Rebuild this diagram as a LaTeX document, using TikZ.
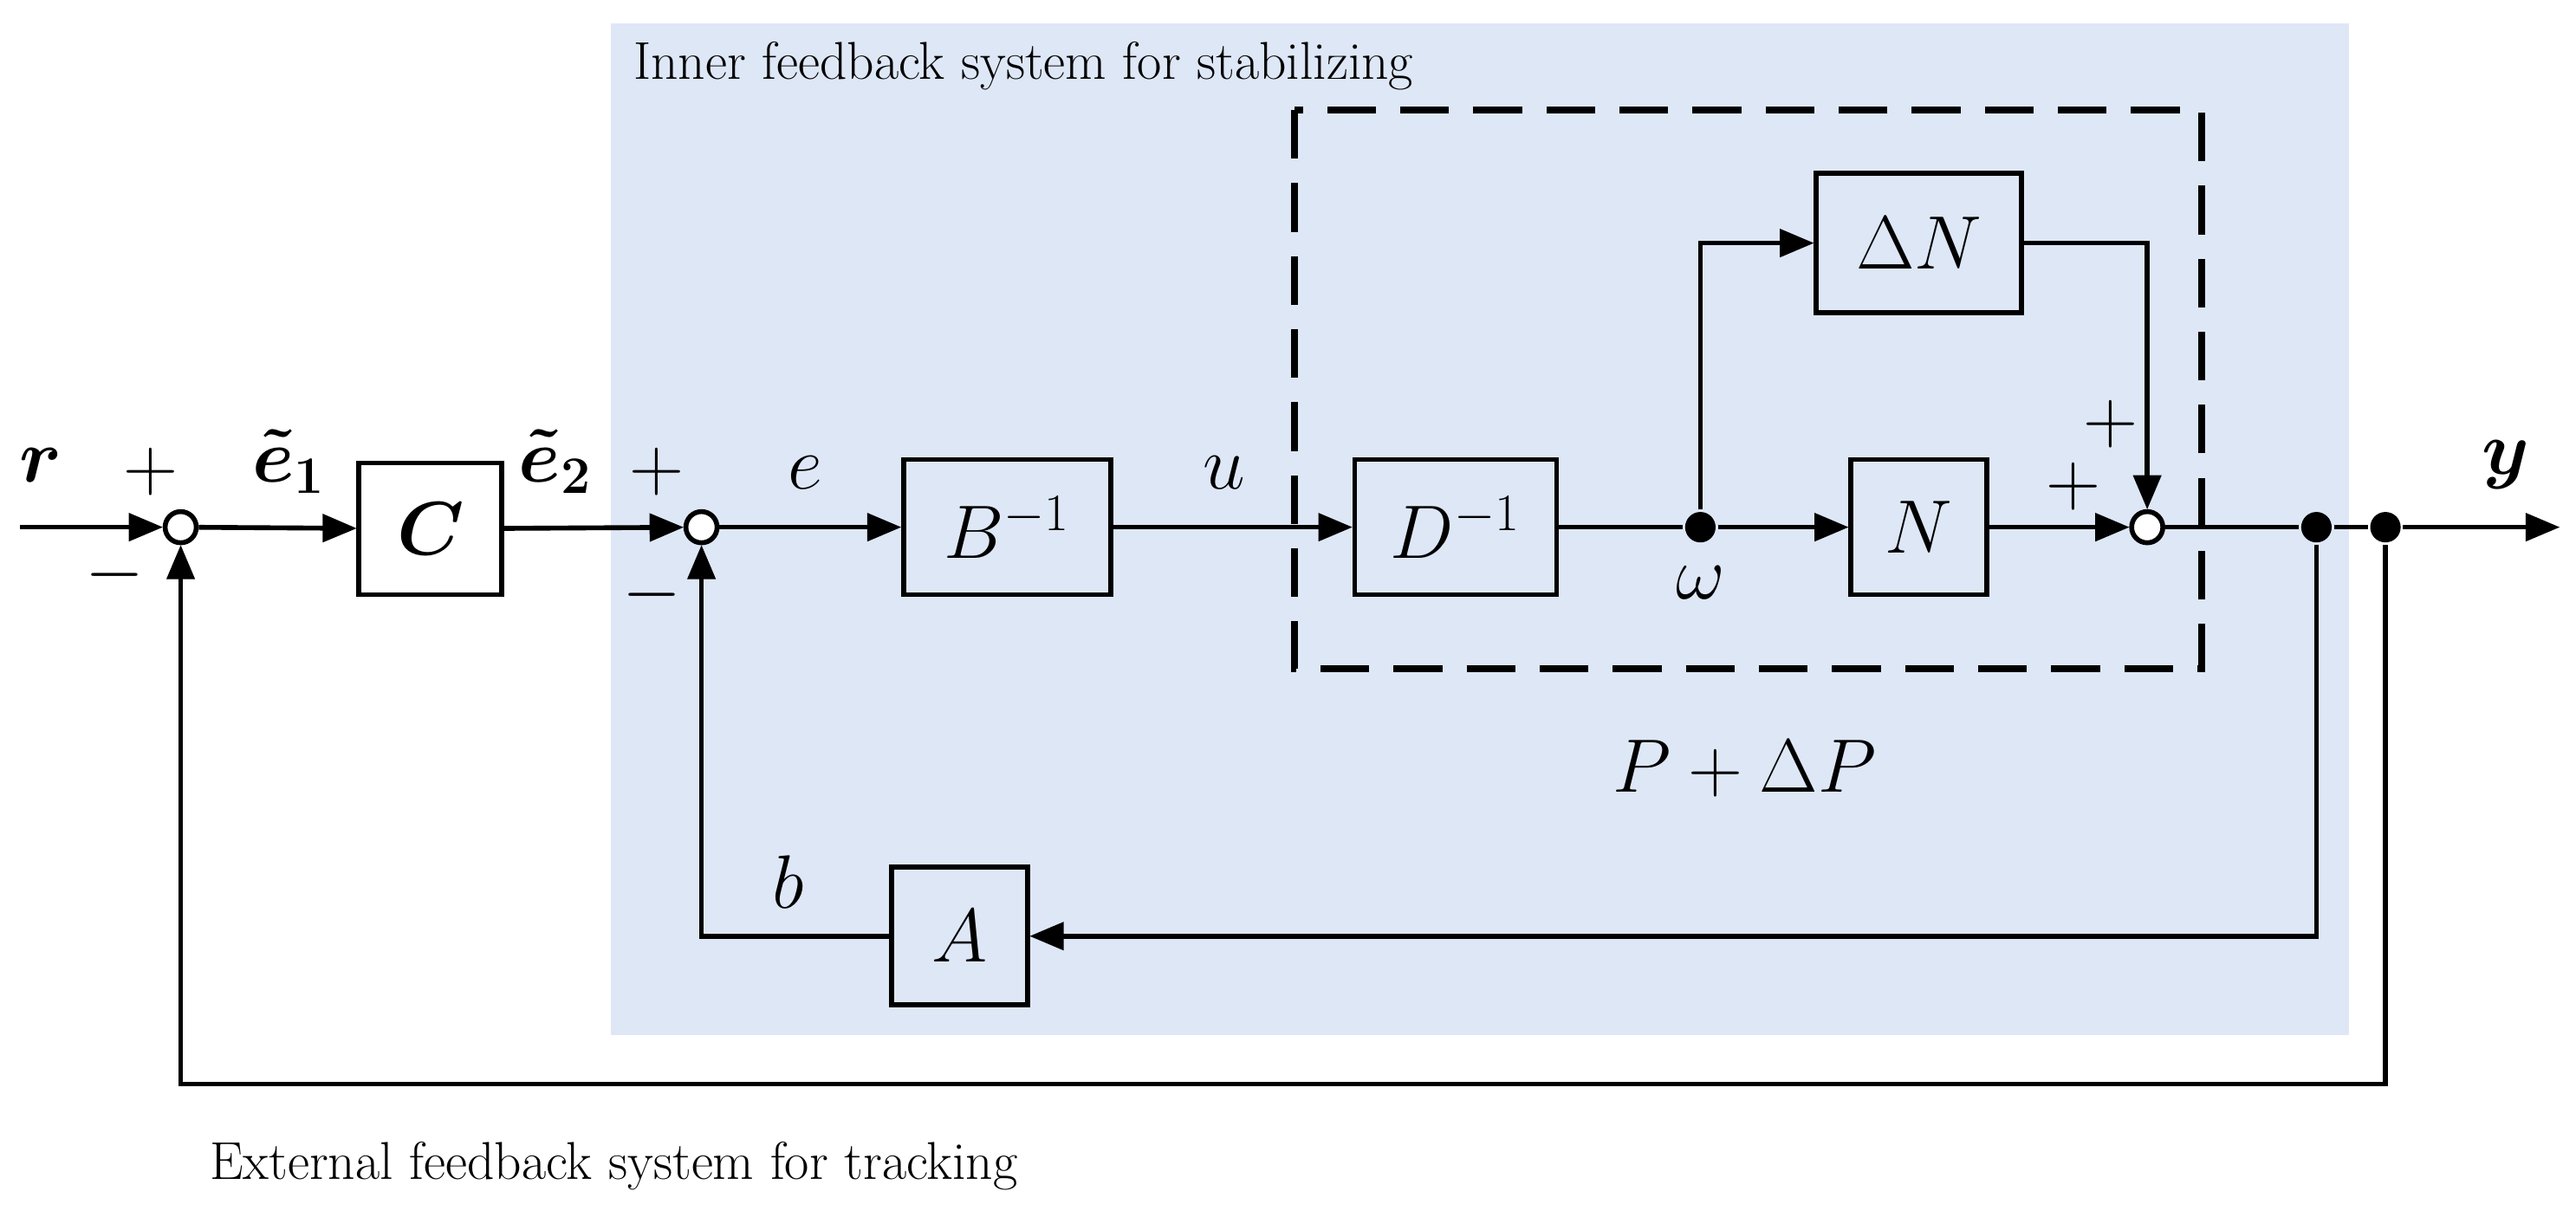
\documentclass[tikz,border=0pt]{standalone}
\usepackage{amsmath,bm}
\usetikzlibrary{arrows}
\definecolor{inner}{RGB}{222,231,246}
\newcommand{\bigtxt}{\fontsize{23}{28}\selectfont}
\newcommand{\signtxt}{\fontsize{29}{34}\selectfont}
\newcommand{\smalltxt}{\fontsize{17.5}{21}\selectfont}
\begin{document}
\begin{tikzpicture}[x=0.01896cm, y=-0.01896cm, line width=1.6pt, >=triangle 45,
  block/.style={draw, rectangle, inner sep=0pt, font=\bigtxt},
  sum/.style={draw, circle, fill=white, inner sep=0pt, minimum size=0.36cm},
  dot/.style={circle, fill, inner sep=0pt, minimum size=10pt},
  lbl/.style={font=\bigtxt},
  sgn/.style={font=\signtxt}]

\useasboundingbox (0,0) rectangle (1568,740.5);

% background
\fill[inner] (372,14) rectangle (1430,630);
\node[anchor=west, font=\smalltxt] (title) at (378,40) {Inner feedback system for stabilizing};
\draw[dashed, line width=2.2pt, dash pattern=on 16pt off 8pt] (788,67) rectangle (1340,407);

% blocks
\node[block, minimum width=1.65cm, minimum height=1.52cm] (C) at (262,322) {$\bm{C}$};
\node[block, minimum width=2.39cm, minimum height=1.56cm] (Binv) at (613,321) {$B^{-1}$};
\node[block, minimum width=2.33cm, minimum height=1.56cm] (Dinv) at (886,321) {$D^{-1}$};
\node[block, minimum width=1.57cm, minimum height=1.56cm] (N) at (1168,321) {$N$};
\node[block, minimum width=2.37cm, minimum height=1.61cm] (dN) at (1168,148) {$\Delta N$};
\node[block, minimum width=1.57cm, minimum height=1.59cm] (A) at (584,570) {$A$};

% junctions
\node[sum] (s1) at (110,321) {};
\node[sum] (s2) at (427,321) {};
\node[sum] (s3) at (1307,321) {};
\node[dot] (w) at (1035,321) {};
\node[dot] (y1) at (1410,321) {};
\node[dot] (y2) at (1452,321) {};
\coordinate (in) at (12,321);
\coordinate (out) at (1558,321);

% labels
\node[lbl] at (25,283) {$\bm{r}$};
\node[sgn] at (92,287) {$+$};
\node[sgn] at (70,350) {$-$};
\node[lbl] at (176,281) {$\bm{\tilde e_1}$};
\node[lbl] at (338,281) {$\bm{\tilde e_2}$};
\node[sgn] at (400,287) {$+$};
\node[sgn] at (397,362) {$-$};
\node[lbl] at (490,288) {$e$};
\node[lbl] at (745,288) {$u$};
\node[lbl] at (1035,355) {$\omega$};
\node[sgn] at (1262,296) {$+$};
\node[sgn] at (1285,258) {$+$};
\node[lbl] at (1525,283) {$\bm{y}$};
\node[lbl] at (480,537) {$b$};
\node[font=\fontsize{38}{44}\selectfont] at (1062,468) {$P+\Delta P$};
\node[anchor=west, font=\smalltxt] (ext) at (120,710) {External feedback system for tracking};

% arrows
\draw[->] (in) -- (s1);
\draw[->] (s1) -- (C);
\draw[->] (C) -- (s2);
\draw[->] (s2) -- (Binv);
\draw[->] (Binv) -- (Dinv);
\draw (Dinv) -- (w);
\draw[->] (w) -- (N);
\draw[->] (w) |- (dN);
\draw[->] (N) -- (s3);
\draw[->] (dN) -| (s3);
\draw (s3) -- (y1);
\draw (y1) -- (y2);
\draw[->] (y2) -- (out);
\draw[->] (y1) |- (A);
\draw[->] (A) -| (s2);
\draw[->] (y2) |- (110,660) -- (s1);
\end{tikzpicture}
\end{document}
